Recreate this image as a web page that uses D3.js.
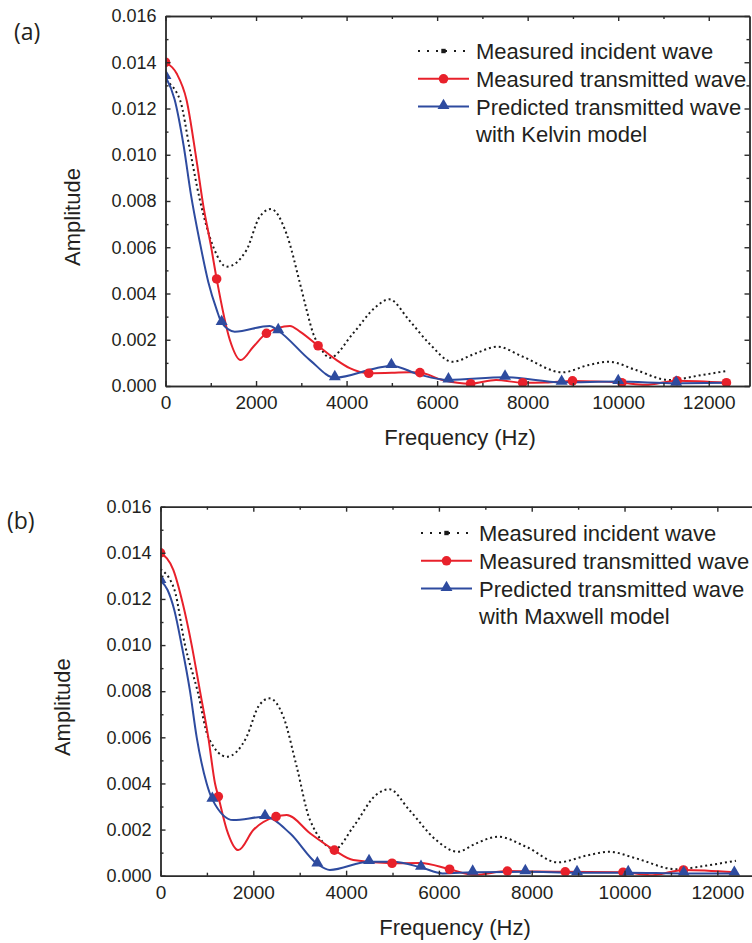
<!DOCTYPE html>
<html>
<head>
<meta charset="utf-8">
<script src="https://cdn.jsdelivr.net/npm/d3@7"></script>
<style>
  body { margin: 0; background: #fff; overflow: hidden; }
  svg text { font-family: "Liberation Sans", Arial, sans-serif; }
  .axis path, .axis line { stroke: #2b2b2b; stroke-width: 1.4; }
  .axis text { fill: #231f20; font-size: 18px; }
</style>
</head>
<body>
<div id="chart"></div>
<script>
// ---- data ----
// panel (a): Kelvin model
var incAFreq = [0, 320, 540, 760, 1055, 1350, 1790, 2080, 2330, 2670, 2970, 3117, 3260, 3410, 3630, 4145, 4650, 4940, 5380, 5820, 6340, 6850, 7330, 7890, 8770, 9350, 9800, 10390, 11120, 11860, 12430];
var incAAmp = [0.0132, 0.01237, 0.0102, 0.00804, 0.00602, 0.00516, 0.00588, 0.00732, 0.00765, 0.0066, 0.00444, 0.00329, 0.00228, 0.0017, 0.00122, 0.00228, 0.00343, 0.00375, 0.00285, 0.00185, 0.00105, 0.00141, 0.0017, 0.00127, 0.00059, 0.00091, 0.00105, 0.00069, 0.00026, 0.00048, 0.00066];

var redAFreq = [0, 250, 465, 690, 835, 1000, 1130, 1420, 1660, 1940, 2230, 2750, 2970, 3370, 3780, 4070, 4490, 5000, 5380, 5620, 6120, 6740, 7300, 7890, 8400, 8990, 9500, 10080, 10600, 11300, 12390];
var redAAmp = [0.0140, 0.0135, 0.01237, 0.0097, 0.0078, 0.0061, 0.00463, 0.0020, 0.00112, 0.0017, 0.00228, 0.0026, 0.00235, 0.00174, 0.00112, 0.00077, 0.00055, 0.00057, 0.0006, 0.00058, 0.00026, 0.0001, 0.00026, 0.00014, 0.00015, 0.00022, 0.0002, 0.00014, 0.00005, 0.00023, 0.00014];
var redAMarkFreq = [0, 1130, 2230, 3370, 4490, 5620, 6740, 7890, 8990, 10080, 11300, 12390];
var redAMarkAmp = [0.0140, 0.00463, 0.00228, 0.00174, 0.00055, 0.00058, 0.0001, 0.00014, 0.00022, 0.00014, 0.00023, 0.00014];

var blueAFreq = [0, 200, 400, 560, 760, 945, 1130, 1240, 1530, 2300, 2490, 3190, 3740, 4650, 4990, 5600, 6250, 7500, 8750, 10000, 11280, 12390];
var blueAAmp = [0.01338, 0.0124, 0.0104, 0.0083, 0.0062, 0.0045, 0.0033, 0.00274, 0.00235, 0.0026, 0.00239, 0.00112, 0.00036, 0.00077, 0.00088, 0.0005, 0.00026, 0.00038, 0.00016, 0.00019, 0.00012, 0.00014];
var blueAMarkFreq = [0, 1240, 2490, 3740, 4990, 6250, 7500, 8750, 10000, 11280];
var blueAMarkAmp = [0.01338, 0.00274, 0.00239, 0.00036, 0.00088, 0.00026, 0.00038, 0.00016, 0.00019, 0.00012];

// panel (b): Maxwell model
var incBFreq = [0, 300, 528, 800, 1030, 1427, 1858, 2108, 2345, 2647, 2935, 3222, 3760, 4155, 4644, 4930, 5362, 5937, 6400, 6800, 7270, 7877, 8560, 9241, 9670, 10248, 11110, 11828, 12400];
var incBAmp = [0.01329, 0.0124, 0.0100, 0.0080, 0.0060, 0.00516, 0.00603, 0.00733, 0.00769, 0.0069, 0.00473, 0.00241, 0.00116, 0.00212, 0.0035, 0.00375, 0.00285, 0.00155, 0.00104, 0.0014, 0.00169, 0.00126, 0.00058, 0.0009, 0.00104, 0.00075, 0.00028, 0.00046, 0.00065];

var redBFreq = [0, 276, 480, 672, 851, 1030, 1175, 1246, 1427, 1677, 2000, 2490, 2720, 3222, 3746, 4155, 4990, 5600, 6230, 6770, 7476, 8100, 8722, 9968, 10600, 11270, 12370];
var redBAmp = [0.0140, 0.01326, 0.0118, 0.0100, 0.0080, 0.0060, 0.0040, 0.00343, 0.0020, 0.00111, 0.00198, 0.00256, 0.00263, 0.00184, 0.00111, 0.00068, 0.00054, 0.00055, 0.00028, 0.00003, 0.0002, 0.00018, 0.00017, 0.00015, 0.00002, 0.00025, 0.00015];
var redBMarkFreq = [0, 1246, 2490, 3746, 4990, 6230, 7476, 8722, 9968, 11270];
var redBMarkAmp = [0.0140, 0.00343, 0.00256, 0.00111, 0.00054, 0.00028, 0.0002, 0.00017, 0.00015, 0.00025];

var blueBFreq = [0, 150, 300, 455, 636, 780, 995, 1117, 1570, 2252, 2790, 3380, 3650, 4494, 5000, 5614, 6080, 6728, 7862, 8976, 10080, 11276, 12366];
var blueBAmp = [0.0128, 0.0124, 0.0115, 0.0100, 0.0080, 0.0060, 0.0040, 0.00331, 0.00241, 0.00256, 0.00184, 0.00051, 0.00025, 0.00061, 0.0006, 0.00036, 0.0001, 0.00015, 0.00017, 0.00013, 0.00013, 0.0001, 0.0001];
var blueBMarkFreq = [0, 1117, 2252, 3380, 4494, 5614, 6728, 7862, 8976, 10080, 11276, 12366];
var blueBMarkAmp = [0.0128, 0.00331, 0.00256, 0.00051, 0.00061, 0.00036, 0.00015, 0.00017, 0.00013, 0.00013, 0.0001, 0.0001];

var xMajorTicks = [0, 2000, 4000, 6000, 8000, 10000, 12000];
var xMinorTicks = [1000, 3000, 5000, 7000, 9000, 11000];
var yMajorTicks = [0, 0.002, 0.004, 0.006, 0.008, 0.010, 0.012, 0.014, 0.016];
var yMinorTicks = [0.001, 0.003, 0.005, 0.007, 0.009, 0.011, 0.013, 0.015];

var legendA = ["Measured incident wave", "Measured transmitted wave", "Predicted transmitted wave", "with Kelvin model"];
var legendB = ["Measured incident wave", "Measured transmitted wave", "Predicted transmitted wave", "with Maxwell model"];

const w = 752;
const h = 943;
const red = "#e8212b";
const blue = "#2e4b9f";
const zip = (a, b) => a.map((v, i) => [v, b[i]]);

const svg = d3.select("#chart").append("svg")
    .attr("width", w)
    .attr("height", h);

var panels = [
    { id: "a", tag: "(a)", tagX: 14, tagY: 40, left: 165.5, top: 16, width: 584, height: 370,
      ytitleX: 80, legX: 418, legY: 51, legend: legendA,
      inc: zip(incAFreq, incAAmp), red: zip(redAFreq, redAAmp), blue: zip(blueAFreq, blueAAmp),
      redMarks: zip(redAMarkFreq, redAMarkAmp), blueMarks: zip(blueAMarkFreq, blueAMarkAmp) },
    { id: "b", tag: "(b)", tagX: 7, tagY: 529, left: 160.5, top: 506.7, width: 598.6, height: 369,
      ytitleX: 70, legX: 421, legY: 533, legend: legendB,
      inc: zip(incBFreq, incBAmp), red: zip(redBFreq, redBAmp), blue: zip(blueBFreq, blueBAmp),
      redMarks: zip(redBMarkFreq, redBMarkAmp), blueMarks: zip(blueBMarkFreq, blueBMarkAmp) }
];

const tri = d3.symbol().type(d3.symbolTriangle).size(62);

panels.forEach(function (p) {
    const xScale = d3.scaleLinear().domain([0, 12900]).range([p.left, p.left + p.width]);
    const yScale = d3.scaleLinear().domain([0, 0.016]).range([p.top + p.height, p.top]);
    const bottom = p.top + p.height;
    const right = p.left + p.width;

    // panel tag
    svg.append("text")
        .attr("x", p.tagX)
        .attr("y", p.tagY)
        .style("font-family", "'Open Sans', sans-serif")
        .attr("font-size", 23)
        .attr("fill", "#231f20")
        .text(p.tag);

    // clip to the plot frame
    svg.append("clipPath").attr("id", "clip-" + p.id)
        .append("rect")
        .attr("x", p.left).attr("y", p.top - 2)
        .attr("width", p.width).attr("height", p.height + 2);

    const plot = svg.append("g").attr("clip-path", "url(#clip-" + p.id + ")");

    const line = d3.line()
        .x((d) => xScale(d[0]))
        .y((d) => yScale(d[1]))
        .curve(d3.curveMonotoneX);

    plot.append("path")
        .attr("d", line(p.inc))
        .attr("fill", "none")
        .attr("stroke", "#1a1a1a")
        .attr("stroke-width", 2)
        .attr("stroke-dasharray", "2,3");

    plot.append("path")
        .attr("d", line(p.red))
        .attr("fill", "none")
        .attr("stroke", red)
        .attr("stroke-width", 2);

    plot.append("path")
        .attr("d", line(p.blue))
        .attr("fill", "none")
        .attr("stroke", blue)
        .attr("stroke-width", 2);

    plot.selectAll("circle.red")
        .data(p.redMarks)
        .enter()
        .append("circle")
        .attr("class", "red")
        .attr("cx", (d) => xScale(d[0]))
        .attr("cy", (d) => yScale(d[1]))
        .attr("r", 4.8)
        .attr("fill", red);

    plot.selectAll("path.tri")
        .data(p.blueMarks)
        .enter()
        .append("path")
        .attr("class", "tri")
        .attr("d", tri)
        .attr("transform", (d) => "translate(" + xScale(d[0]) + "," + (yScale(d[1]) - 1) + ")")
        .attr("fill", blue);

    // axes, ticks pointing inward
    svg.append("g").attr("class", "axis")
        .attr("transform", "translate(0," + bottom + ")")
        .call(d3.axisBottom(xScale).tickValues(xMinorTicks).tickSizeInner(-3).tickSizeOuter(0).tickFormat(""));
    svg.append("g").attr("class", "axis")
        .attr("transform", "translate(0," + bottom + ")")
        .call(d3.axisBottom(xScale).tickValues(xMajorTicks).tickSizeInner(-5).tickSizeOuter(0).tickPadding(10).tickFormat(d3.format("d")))
        .selectAll("text").style("font-size", "19px");

    svg.append("g").attr("class", "axis")
        .attr("transform", "translate(0," + p.top + ")")
        .call(d3.axisTop(xScale).tickValues(xMinorTicks).tickSizeInner(-3).tickSizeOuter(0).tickFormat(""));
    svg.append("g").attr("class", "axis")
        .attr("transform", "translate(0," + p.top + ")")
        .call(d3.axisTop(xScale).tickValues(xMajorTicks).tickSizeInner(-5).tickSizeOuter(0).tickFormat(""));

    svg.append("g").attr("class", "axis")
        .attr("transform", "translate(" + p.left + ",0)")
        .call(d3.axisLeft(yScale).tickValues(yMinorTicks).tickSizeInner(-3).tickSizeOuter(0).tickFormat(""));
    svg.append("g").attr("class", "axis")
        .attr("transform", "translate(" + p.left + ",0)")
        .call(d3.axisLeft(yScale).tickValues(yMajorTicks).tickSizeInner(-5).tickSizeOuter(0).tickPadding(9).tickFormat(d3.format(".3f")));

    svg.append("g").attr("class", "axis")
        .attr("transform", "translate(" + right + ",0)")
        .call(d3.axisRight(yScale).tickValues(yMinorTicks).tickSizeInner(-3).tickSizeOuter(0).tickFormat(""));
    svg.append("g").attr("class", "axis")
        .attr("transform", "translate(" + right + ",0)")
        .call(d3.axisRight(yScale).tickValues(yMajorTicks).tickSizeInner(-5).tickSizeOuter(0).tickFormat(""));

    // axis titles
    svg.append("text")
        .attr("x", (p.left + 460 - 165.5))
        .attr("y", bottom + 59)
        .attr("text-anchor", "middle")
        .attr("font-size", 22)
        .attr("fill", "#231f20")
        .text("Frequency (Hz)");

    svg.append("text")
        .attr("transform", "translate(" + p.ytitleX + "," + (p.top + p.height / 2 + 16) + ") rotate(-90)")
        .attr("text-anchor", "middle")
        .attr("font-size", 22)
        .attr("fill", "#231f20")
        .text("Amplitude");

    // legend
    const rowH = 27.8;
    const lg = svg.append("g").attr("transform", "translate(" + p.legX + "," + p.legY + ")");
    const sampleW = 51;

    lg.append("line")
        .attr("x1", 0).attr("x2", sampleW).attr("y1", 0).attr("y2", 0)
        .attr("stroke", "#1a1a1a").attr("stroke-width", 2).attr("stroke-dasharray", "2,7");
    lg.append("rect")
        .attr("x", sampleW / 2 - 2.2).attr("y", -2.2).attr("width", 4.4).attr("height", 4.4)
        .attr("fill", "#1a1a1a");

    lg.append("line")
        .attr("x1", 0).attr("x2", sampleW).attr("y1", rowH).attr("y2", rowH)
        .attr("stroke", red).attr("stroke-width", 2);
    lg.append("circle")
        .attr("cx", sampleW / 2).attr("cy", rowH).attr("r", 4.8).attr("fill", red);

    lg.append("line")
        .attr("x1", 0).attr("x2", sampleW).attr("y1", rowH * 2).attr("y2", rowH * 2)
        .attr("stroke", blue).attr("stroke-width", 2);
    lg.append("path")
        .attr("d", tri)
        .attr("transform", "translate(" + (sampleW / 2) + "," + (rowH * 2 - 1) + ")")
        .attr("fill", blue);

    lg.selectAll("text")
        .data(p.legend)
        .enter()
        .append("text")
        .attr("x", 58)
        .attr("y", (d, i) => i * rowH)
        .attr("dy", "0.36em")
        .attr("font-size", 22)
        .attr("fill", "#231f20")
        .text((d) => d);
});
</script>
</body>
</html>
